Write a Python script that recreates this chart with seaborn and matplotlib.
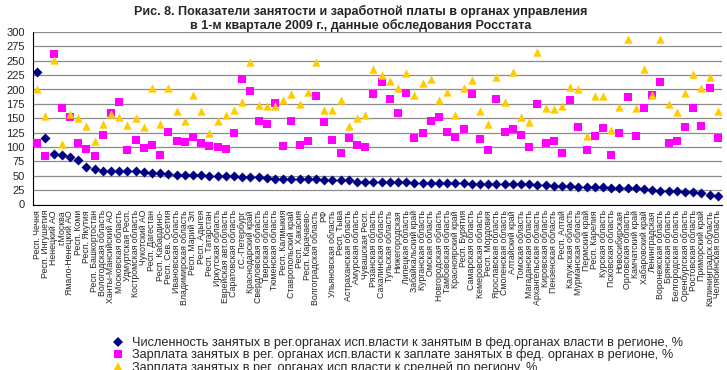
import matplotlib
matplotlib.use('Agg')
import matplotlib.pyplot as plt
import seaborn as sns
import pandas as pd
from matplotlib.lines import Line2D

regions = [
    "Респ. Чечня", "Респ. Ингушетия", "Ненецкий АО", "г.Москва", "Ямало-Ненецкий АО",
    "Респ. Коми", "Респ. Якутия", "Респ. Башкортостан", "Вологодская область",
    "Ханты-Мансийский АО", "Московская область", "Удмуртская Респ.", "Костромская область",
    "Чукотский АО", "Респ. Дагестан", "Респ. Кабардино-", "Респ. Сев. Осетия",
    "Ивановская область", "Владимирская область", "Респ. Марий Эл", "Респ. Адыгея",
    "Респ. Татарстан", "Иркутская область", "Еврейская авт.область", "Саратовская область",
    "г.С.-Петербург", "Краснодарский край", "Свердловская область", "Тверская область",
    "Тюменская область", "Респ. Калмыкия", "Ставропольский край", "Респ. Хакасия",
    "Респ. Карачаево-", "Волгоградская область", "РФ", "Ульяновская область", "Респ. Тыва",
    "Астраханская область", "Амурская область", "Чувашская Респ.", "Рязанская область",
    "Сахалинская область", "Тульская область", "Нижегородская", "Липецкая область",
    "Забайкальский край", "Курганская область", "Омская область", "Новгородская область",
    "Тамбовская область", "Красноярский край", "Респ. Бурятия", "Самарская область",
    "Кемеровская область", "Респ. Мордовия", "Ярославская область", "Смоленская область",
    "Алтайский край", "Томская область", "Магаданская область", "Архангельская область",
    "Кировская область", "Пензенская область", "Респ. Алтай", "Калужская область",
    "Мурманская область", "Пермский край", "Респ. Карелия", "Курская область",
    "Псковская область", "Новосибирская", "Орловская область", "Камчатский край",
    "Хабаровский край", "Ленинградская", "Воронежская область", "Брянская область",
    "Белгородская область", "Оренбургская область", "Ростовская область", "Приморский край",
    "Калининградск.область", "Челябинская область",
]

employment = [
    231, 116, 87, 86, 82, 78, 66, 61, 59, 59, 59, 59, 59, 57, 55, 54, 53, 52, 52, 51,
    51, 49, 49, 49, 49, 47, 47, 47, 46, 45, 45, 45, 44, 44, 44, 43, 43, 42, 42, 40,
    40, 40, 40, 39, 39, 39, 38, 38, 38, 38, 37, 37, 37, 36, 36, 36, 35, 35, 35, 35,
    35, 34, 34, 33, 33, 32, 31, 31, 30, 30, 29, 29, 28, 28, 27, 25, 24, 23, 23, 22,
    22, 20, 17, 15,
]

wage_fed = [
    107, 85, 261, 167, 152, 107, 96, 85, 121, 159, 178, 95, 112, 98, 103, 86, 126, 110,
    109, 118, 107, 102, 100, 96, 125, 218, 198, 145, 140, 176, 102, 145, 104, 110, 189,
    143, 113, 90, 116, 104, 100, 192, 213, 184, 159, 194, 116, 125, 145, 152, 126, 118,
    132, 192, 114, 95, 184, 126, 132, 121, 100, 175, 107, 111, 90, 182, 135, 95, 119,
    133, 86, 125, 187, 119, 167, 191, 213, 107, 111, 135, 167, 137, 203, 116,
]

wage_avg = [
    200, 154, 252, 105, 157, 150, 137, 111, 140, 158, 153, 139, 150, 134, 203, 140, 203,
    162, 145, 191, 162, 125, 145, 155, 165, 178, 247, 173, 171, 171, 181, 192, 175, 196,
    248, 164, 164, 181, 137, 151, 155, 235, 226, 214, 202, 228, 191, 212, 219, 181, 196,
    156, 203, 217, 163, 140, 222, 178, 231, 152, 143, 265, 167, 166, 172, 205, 200, 120,
    189, 189, 130, 170, 287, 167, 235, 191, 288, 175, 160, 194, 227, 202, 222, 163,
]

series_labels = [
    "Численность занятых в рег.органах исп.власти к занятым в фед.органах власти в регионе, %",
    "Зарплата занятых в рег. органах исп.власти к заплате занятых в фед. органах в регионе, %",
    "Зарплата занятых в рег. органах исп.власти к средней по региону, %",
]

title_lines = [
    "Рис. 8. Показатели занятости и заработной платы в органах управления",
    "в 1-м квартале 2009 г., данные обследования Росстата",
]

sns.set_theme(style='white')
plt.rcParams['font.family'] = ['Liberation Sans', 'DejaVu Sans']

W, H = 727, 370
fig = plt.figure(figsize=(W / 100, H / 100), dpi=100)
fig.patch.set_facecolor('white')
ax = fig.add_axes([33 / W, 1 - 204.5 / H, (722 - 33) / W, (204.5 - 32) / H])

df = pd.DataFrame({'region': regions, 'emp': employment, 'wfed': wage_fed, 'wavg': wage_avg})

colors = ['#000080', '#FF00FF', '#FFCC00']
markers = ['D', 's', '^']
sizes = [26, 30, 36]
for col, c, m, s in zip(['emp', 'wfed', 'wavg'], colors, markers, sizes):
    sns.scatterplot(data=df, x='region', y=col, marker=m, color=c, s=s, linewidth=0,
                    ax=ax, zorder=3, legend=False)

n = len(regions)
ax.set_xlim(-0.5, n - 0.5)
ax.set_ylim(0, 300)
ax.set_yticks(range(0, 301, 25))
ax.set_xticks(range(n))
ax.set_xticklabels(regions, rotation=90, fontsize=6.3)
ax.set_xticks([i - 0.5 for i in range(n + 1)], minor=True)
ax.tick_params(axis='x', which='major', length=0, pad=4)
ax.tick_params(axis='x', which='minor', length=4, width=0.8, color='black', direction='out')
ax.tick_params(axis='y', which='major', length=4, width=0.8, color='black', direction='out',
               labelsize=8, pad=2)
ax.set_xlabel('')
ax.set_ylabel('')
ax.grid(axis='y', color='#8c8c8c', linewidth=0.9, zorder=0)
ax.set_axisbelow(True)
for side in ['top', 'right']:
    ax.spines[side].set_visible(False)
for side in ['left', 'bottom']:
    ax.spines[side].set_color('black')
    ax.spines[side].set_linewidth(0.8)

fig.text(361 / W, 1 - 5 / H, title_lines[0], ha='center', va='top', fontsize=9,
         fontweight='bold')
fig.text(361 / W, 1 - 19 / H, title_lines[1], ha='center', va='top', fontsize=9,
         fontweight='bold')

handles = [Line2D([], [], linestyle='none', marker=m, color=c, markersize=ms, markeredgewidth=0)
           for m, c, ms in zip(markers, colors, [5, 5.5, 6])]
fig.legend(handles, series_labels, loc='upper left', bbox_to_anchor=(113 / W, 1 - 337 / H),
           frameon=False, fontsize=9.2, handlelength=0.8, handletextpad=0.7,
           labelspacing=0.0, borderpad=0, borderaxespad=0)

fig.savefig('out.png', dpi=100, facecolor='white')
